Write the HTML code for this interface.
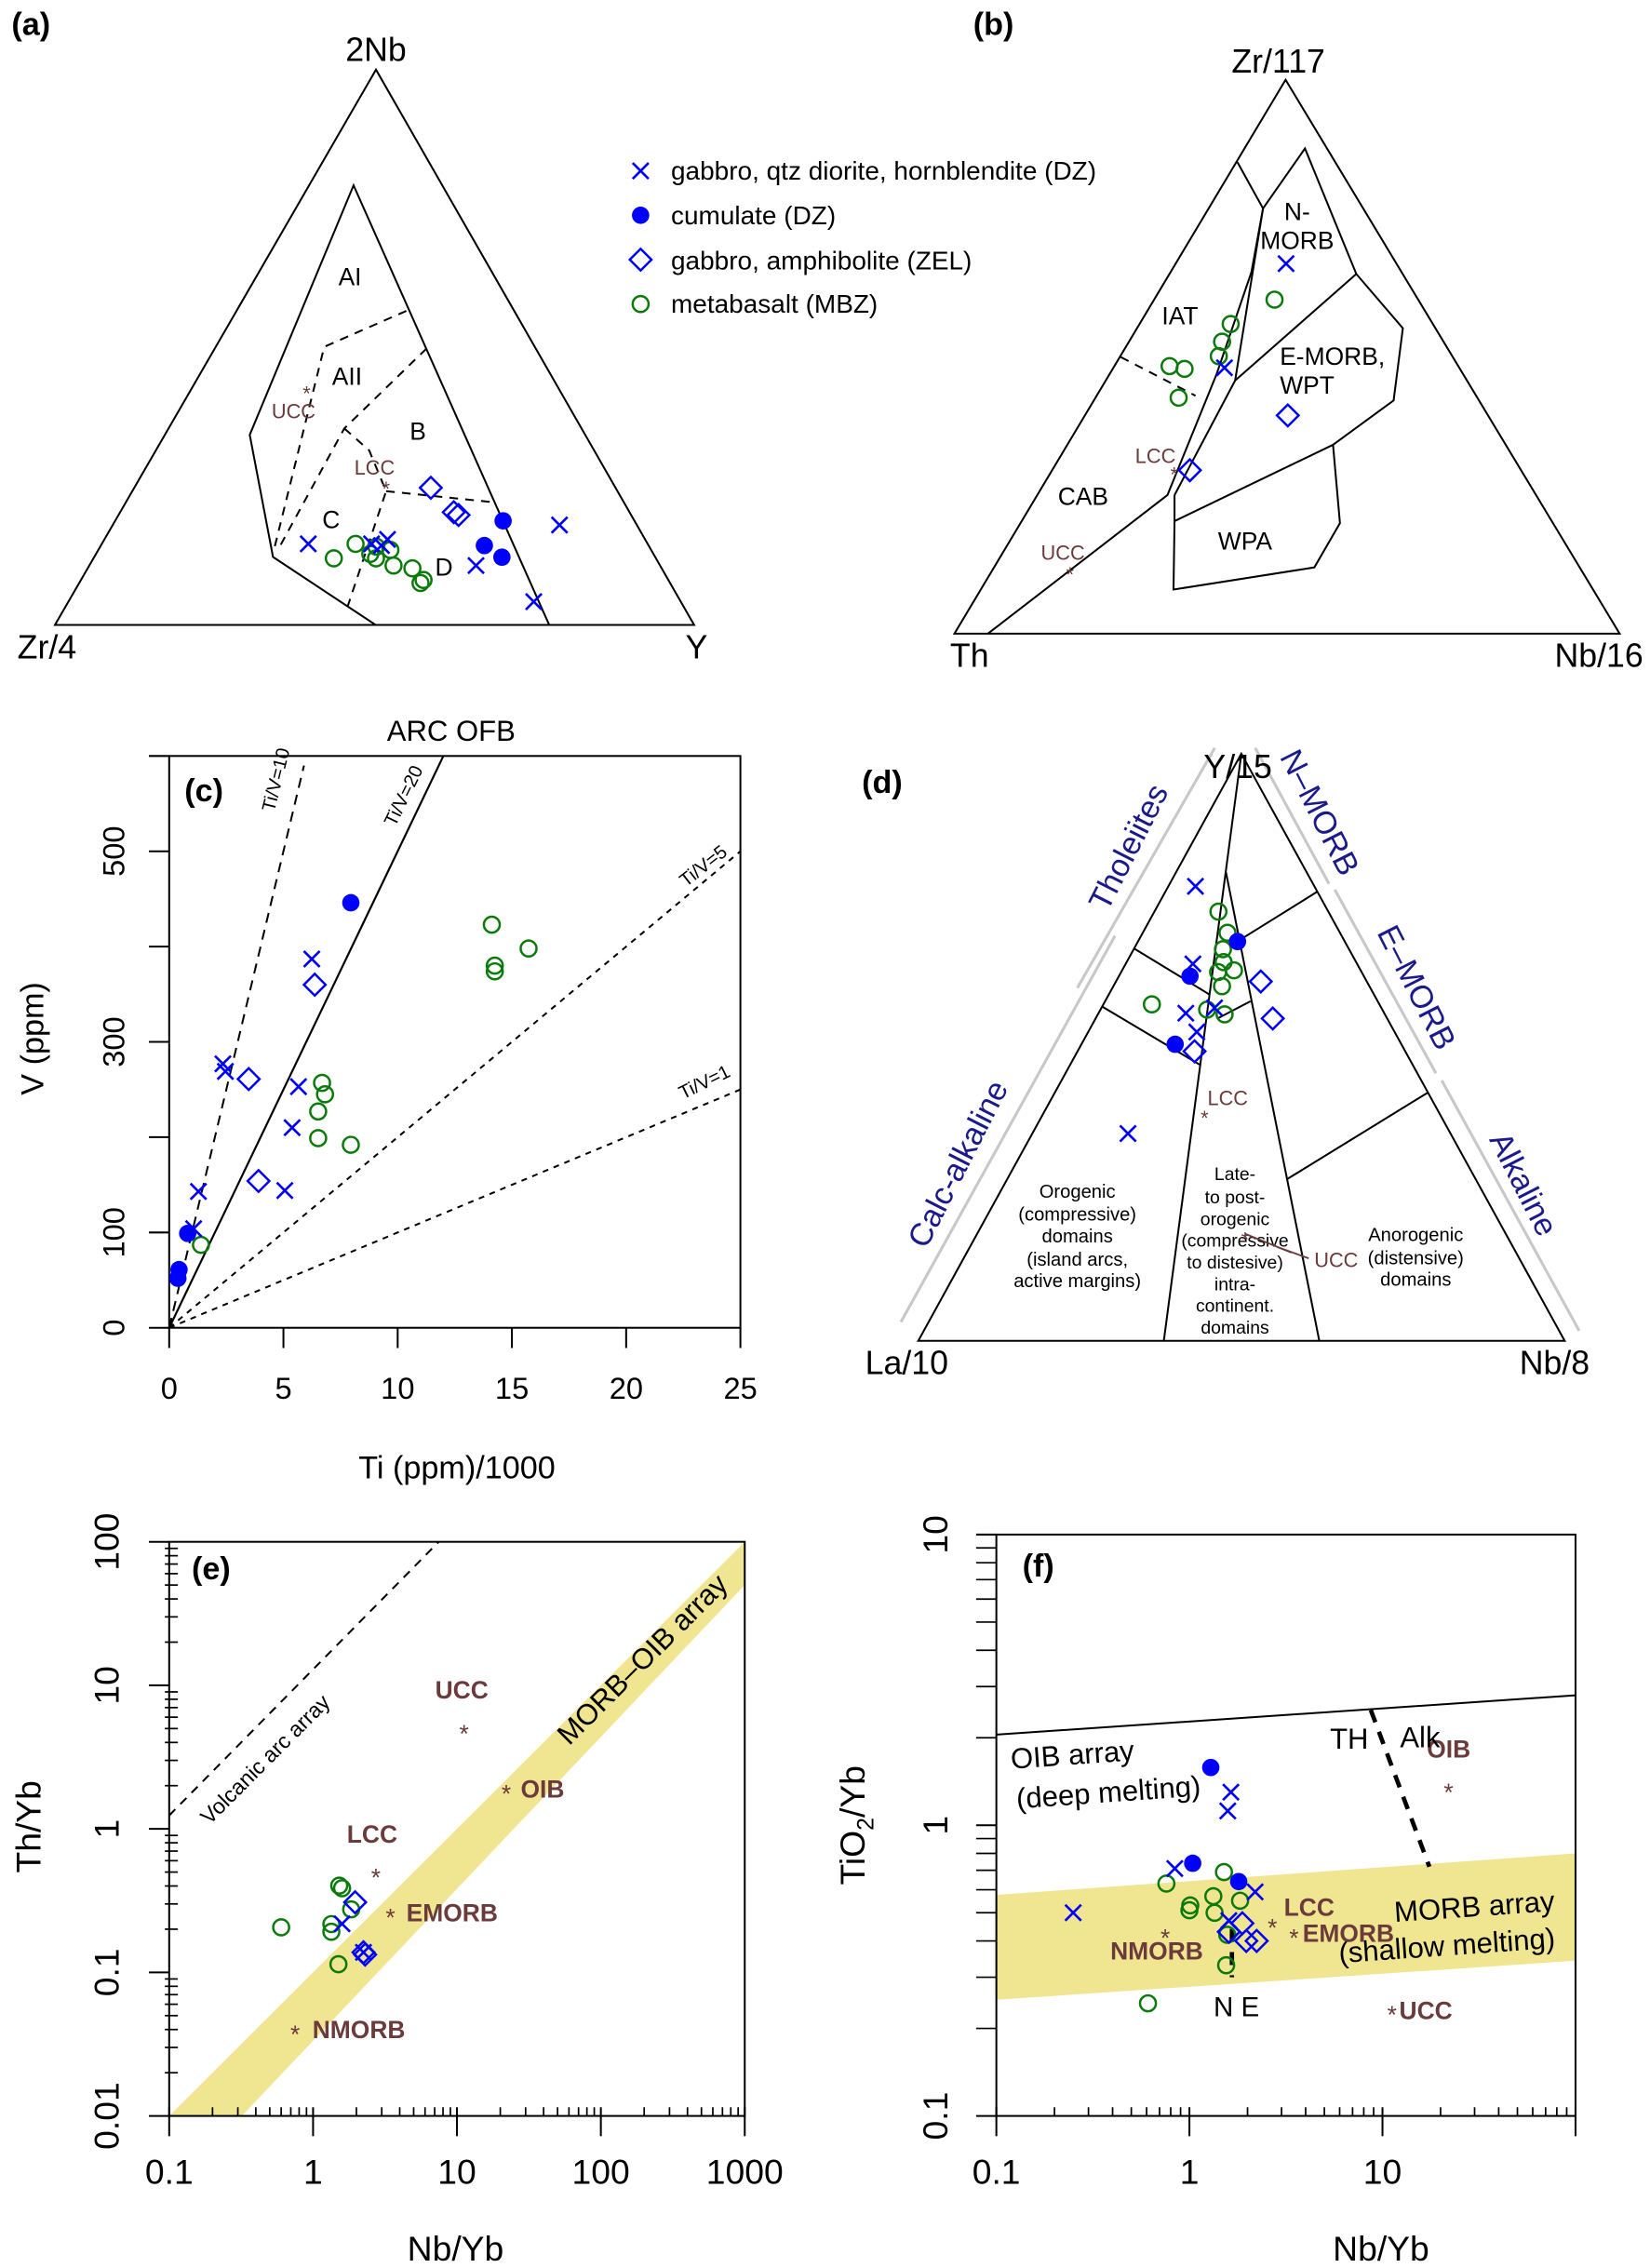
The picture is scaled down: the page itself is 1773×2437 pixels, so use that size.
<!DOCTYPE html>
<html><head><meta charset="utf-8"><title>Geochemical discrimination diagrams</title>
<style>
html,body{margin:0;padding:0;background:#fff;}
svg{display:block;font-family:"Liberation Sans",Arial,sans-serif;}
.ln{stroke:#000;stroke-width:1.3;fill:none;}
.ds{stroke:#000;stroke-width:1.3;fill:none;stroke-dasharray:6 5;}
.br{fill:#6b3b3b;}
.nv{fill:#1a1a8c;}
</style></head>
<body>
<svg id="fig" xmlns="http://www.w3.org/2000/svg" width="1773" height="2437" viewBox="0 0 1141 1568">
<rect x="0" y="0" width="1141" height="1568" fill="#fff"/>

<!-- Panel (a) -->
<g id="pa">
  <text x="8" y="24" font-size="22" font-weight="bold">(a)</text>
  <polygon class="ln" points="260,48 38,432 480,432"/>
  <polyline class="ln" points="259.5,431.8 188.8,385 172.7,300.5 244.5,128 379.7,431.8"/>
  <polyline class="ds" points="281,214.8 224.2,239.7 189.8,378.6"/>
  <polyline class="ds" points="295,240.8 238.1,296.1 193,378.6"/>
  <polyline class="ds" points="238.1,296.1 255.3,311.3 267,339.5 240.2,419.8"/>
  <polyline class="ds" points="267,339.5 341,347.1"/>
  <text x="260" y="42" font-size="23" text-anchor="middle">2Nb</text>
  <text x="12" y="455" font-size="23">Zr/4</text>
  <text x="474" y="455" font-size="23">Y</text>
  <text x="242" y="197" font-size="17" text-anchor="middle">AI</text>
  <text x="240" y="266" font-size="17" text-anchor="middle">AII</text>
  <text x="289" y="304" font-size="17" text-anchor="middle">B</text>
  <text x="229" y="365" font-size="17" text-anchor="middle">C</text>
  <text x="307" y="398" font-size="17" text-anchor="middle">D</text>
  <text x="203" y="289" font-size="14" text-anchor="middle" class="br">UCC</text>
  <text x="212" y="277" font-size="14" text-anchor="middle" class="br">*</text>
  <text x="259" y="328" font-size="14" text-anchor="middle" class="br">LCC</text>
  <text x="267" y="343" font-size="14" text-anchor="middle" class="br">*</text>
  <g id="pa-pts"></g>
</g>

<!-- Legend -->
<g id="legend">
  <text x="464" y="124" font-size="18">gabbro, qtz diorite, hornblendite (DZ)</text>
  <text x="464" y="155" font-size="18">cumulate (DZ)</text>
  <text x="464" y="186" font-size="18">gabbro, amphibolite (ZEL)</text>
  <text x="464" y="216" font-size="18">metabasalt (MBZ)</text>
  <g id="leg-mk"></g>
</g>

<!-- Panel (b) -->
<g id="pb">
  <text x="673" y="24" font-size="22" font-weight="bold">(b)</text>
  <polygon class="ln" points="889,55 660,438 1120,438"/>
  <polyline class="ln" points="855.7,112 873.4,144 902.4,102.5 937.9,189.3 970.1,226.8 963.7,276.8 921.8,307.4"/>
  <polyline class="ln" points="937.9,189.3 854.1,263 812.2,342.2"/>
  <polyline class="ln" points="873.4,144 854.1,263"/>
  <polyline class="ln" points="873.4,144 865.4,187.9 841.2,258.8 807.3,342.2 683.2,438"/>
  <polyline class="ln" points="921.8,307.4 812.2,360.2 812.2,342.2"/>
  <polyline class="ln" points="812.2,360.2 811.5,407.5 908.9,392.2 926.6,361.6 921.8,307.4"/>
  <polyline class="ds" points="775.1,246.8 826.7,273.5"/>
  <text x="884" y="50" font-size="23" text-anchor="middle">Zr/117</text>
  <text x="657" y="461" font-size="23">Th</text>
  <text x="1075" y="461" font-size="23">Nb/16</text>
  <text x="897" y="152" font-size="17" text-anchor="middle">N-</text>
  <text x="897" y="172" font-size="17" text-anchor="middle">MORB</text>
  <text x="816" y="224" font-size="17" text-anchor="middle">IAT</text>
  <text x="885" y="252" font-size="17">E-MORB,</text>
  <text x="885" y="272" font-size="17">WPT</text>
  <text x="749" y="349" font-size="17" text-anchor="middle">CAB</text>
  <text x="861" y="380" font-size="17" text-anchor="middle">WPA</text>
  <text x="799" y="320" font-size="14" text-anchor="middle" class="br">LCC</text>
  <text x="812" y="333" font-size="14" text-anchor="middle" class="br">*</text>
  <text x="735" y="387" font-size="14" text-anchor="middle" class="br">UCC</text>
  <text x="740" y="402" font-size="14" text-anchor="middle" class="br">*</text>
  <g id="pb-pts"></g>
</g>

<!-- Panel (c) -->
<g id="pc">
  <text x="141" y="554" font-size="22" font-weight="bold" text-anchor="middle">(c)</text>
  <text x="312" y="512" font-size="20" text-anchor="middle">ARC  OFB</text>
  <text transform="translate(30,718) rotate(-90)" font-size="22" text-anchor="middle">V (ppm)</text>
  <text x="316" y="1022" font-size="22" text-anchor="middle">Ti (ppm)/1000</text>
  <g id="pc-g"></g>
</g>

<!-- Panel (d) -->
<g id="pd">
  <text x="596" y="548" font-size="22" font-weight="bold">(d)</text>
  <g stroke="#c8c8c8" stroke-width="2" fill="none">
    <line x1="840" y1="517" x2="745" y2="683"/><line x1="771" y1="647" x2="623" y2="914"/>
    <line x1="868" y1="517" x2="919" y2="611"/><line x1="923" y1="615" x2="993" y2="742"/>
    <line x1="997" y1="747" x2="1092" y2="920"/>
  </g>
  <polygon class="ln" points="858.4,521 635,927 1082,927"/>
  <polyline class="ln" points="858.4,521 804.8,927"/>
  <polyline class="ln" points="847.8,603.1 912.3,927"/>
  <line class="ln" x1="784.7" y1="656" x2="836.5" y2="687.6"/>
  <line class="ln" x1="762.5" y1="696.1" x2="829.5" y2="736"/>
  <line class="ln" x1="910.5" y1="616.7" x2="854.8" y2="651.4"/>
  <line class="ln" x1="864.7" y1="692.2" x2="841.8" y2="704.2"/>
  <line class="ln" x1="987" y1="755.6" x2="890.4" y2="815"/>
  <text x="856" y="538" font-size="23" text-anchor="middle">Y/15</text>
  <text x="627" y="950" font-size="23" text-anchor="middle">La/10</text>
  <text x="1075" y="950" font-size="23" text-anchor="middle">Nb/8</text>
  <text transform="translate(787,589) rotate(-63)" font-size="22" text-anchor="middle" class="nv">Tholeiites</text>
  <text transform="translate(669,808) rotate(-63)" font-size="22" text-anchor="middle" class="nv">Calc-alkaline</text>
  <text transform="translate(906,565) rotate(63)" font-size="22" text-anchor="middle" class="nv">N–MORB</text>
  <text transform="translate(973,686) rotate(63)" font-size="22" text-anchor="middle" class="nv">E–MORB</text>
  <text transform="translate(1047,822) rotate(63)" font-size="22" text-anchor="middle" class="nv">Alkaline</text>
  <g font-size="13" text-anchor="middle">
    <text x="745" y="828">Orogenic</text><text x="745" y="844">(compressive)</text><text x="745" y="859">domains</text><text x="745" y="875">(island arcs,</text><text x="745" y="890">active margins)</text>
  </g>
  <g font-size="12.5" text-anchor="middle">
    <text x="854" y="816">Late-</text><text x="854" y="832">to post-</text><text x="854" y="847">orogenic</text><text x="854" y="862">(compressive</text><text x="854" y="877">to distesive)</text><text x="854" y="892">intra-</text><text x="854" y="907">continent.</text><text x="854" y="922">domains</text>
  </g>
  <g font-size="13" text-anchor="middle">
    <text x="979" y="858">Anorogenic</text><text x="979" y="874">(distensive)</text><text x="979" y="889">domains</text>
  </g>
  <text x="849" y="764" font-size="14" text-anchor="middle" class="br">LCC</text>
  <text x="833" y="778" font-size="14" text-anchor="middle" class="br">*</text>
  <polyline points="861,853 893,866 883,862 905,870" stroke="#6b3b3b" stroke-width="1.2" fill="none"/>
  <text x="861" y="862" font-size="14" text-anchor="middle" class="br">*</text>
  <text x="924" y="876" font-size="14" text-anchor="middle" class="br">UCC</text>
  <g id="pd-pts"></g>
</g>

<!-- Panel (e) -->
<g id="pe">
  <g id="pe-g"></g>
  <text x="146" y="1092" font-size="22" font-weight="bold" text-anchor="middle">(e)</text>
  <text transform="translate(187,1220) rotate(-45)" font-size="15" text-anchor="middle">Volcanic arc array</text>
  <text transform="translate(449,1152) rotate(-45)" font-size="20" text-anchor="middle">MORB–OIB array</text>
  <text transform="translate(28,1263) rotate(-90)" font-size="24" text-anchor="middle">Th/Yb</text>
  <text x="315" y="1563" font-size="24" text-anchor="middle">Nb/Yb</text>
</g>

<!-- Panel (f) -->
<g id="pf">
  <g id="pf-g"></g>
  <text x="718" y="1090" font-size="22" font-weight="bold" text-anchor="middle">(f)</text>
  <text transform="translate(742,1220) rotate(-4)" font-size="20" text-anchor="middle">OIB array</text>
  <text transform="translate(767,1246) rotate(-4)" font-size="20" text-anchor="middle">(deep melting)</text>
  <text x="933" y="1209" font-size="20" text-anchor="middle">TH</text>
  <text x="982" y="1208" font-size="20" text-anchor="middle">Alk</text>
  <text transform="translate(1020,1325) rotate(-4)" font-size="20" text-anchor="middle">MORB array</text>
  <text transform="translate(1001,1352) rotate(-4)" font-size="20" text-anchor="middle">(shallow melting)</text>
  <text x="855" y="1394" font-size="19" text-anchor="middle">N E</text>
  <text transform="translate(598,1262) rotate(-90)" font-size="24" text-anchor="middle">TiO<tspan font-size="16" dy="6">2</tspan><tspan dy="-6">/Yb</tspan></text>
  <text x="955" y="1563" font-size="24" text-anchor="middle">Nb/Yb</text>
</g>
</svg>

<script>
const NS = 'http://www.w3.org/2000/svg';
// ---------- DATA ----------
// Ternary panels: [top fraction, right fraction]
const aCross = [[.146,.323],[.146,.422],[.154,.443],[.143,.439],[.107,.605],[.042,.728],[.180,.699]];
const aFilled = [[.1875,.607],[.143,.600],[.122,.638]];
const aDiamond = [[.247,.464],[.203,.522],[.198,.532]];
const aCircle = [[.120,.376],[.146,.397],[.128,.429],[.120,.442],[.135,.457],[.107,.476],[.102,.508],[.081,.536],[.0755,.534],[.141,.432]];
const bCross = [[.668,.166],[.480,.167]];
const bDiamond = [[.394,.305],[.295,.207]];
const bCircle = [[.603,.181],[.559,.137],[.527,.140],[.501,.148],[.483,.083],[.478,.108],[.426,.125]];
const dCross = [[.774,.042],[.642,.104],[.558,.135],[.526,.168],[.567,.175],[.353,.148]];
const dFilled = [[.680,.154],[.621,.110],[.505,.145]];
const dDiamond = [[.612,.224],[.549,.274],[.493,.181]];
const dCircle = [[.731,.099],[.695,.131],[.667,.138],[.645,.150],[.628,.150],[.631,.173],[.604,.168],[.573,.075],[.564,.165],[.556,.196]];
// Panel c: Ti(ppm)/1000 and V(ppm)
const cCrossTi = [6.24,2.35,2.46,5.66,5.38,1.28,5.06,1.07];
const cCrossV = [387,277,269,253,210,143,144,104];
const cFilledTi = [7.95,0.81,0.43,0.38];
const cFilledV = [446,99,61,52];
const cDiamondTi = [6.37,3.48,3.91];
const cDiamondV = [360,261,154];
const cCircleTi = [14.12,15.73,14.25,14.25,6.69,6.82,6.52,6.52,7.95,1.39];
const cCircleV = [423,398,380,374,257,245,227,199,192,87];
const cTiVRatios = [10,20,5,1];
const cTiVSlopes = [100,50,20,10]; // V per Ti/1000 for each reference line
const cXTicks = [0,5,10,15,20,25];
const cYTicks = [0,100,200,300,400,500,600];
const cYLabels = ['0','100','','300','','500',''];
// Panel e: Nb/Yb vs Th/Yb
const eCircleX = [0.60,1.34,1.34,1.52,1.59,1.84,1.50];
const eCircleY = [0.206,0.217,0.192,0.402,0.386,0.275,0.114];
const eDiamondX = [1.96,2.24,2.30];
const eDiamondY = [0.308,0.138,0.133];
const eCrossX = [1.59,2.24];
const eCrossY = [0.218,0.138];
const eRefNames = ['UCC','LCC','EMORB','OIB','NMORB'];
const eRefX = [11.2,2.73,3.45,22,0.75];
const eRefY = [4.85,0.48,0.254,1.85,0.039];
const eBandUpper = [[0.1,0.01],[1000,100]];
const eBandLower = [[0.32,0.01],[1000,50]];
const eArcLine = [[0.1,1.24],[7.47,100]];
const eXTicks = [0.1,1,10,100,1000];
const eXLabels = ['0.1','1','10','100','1000'];
const eYTicks = [0.01,0.1,1,10,100];
const eYLabels = ['0.01','0.1','1','10','100'];
// Panel f: Nb/Yb vs TiO2/Yb
const fFilledX = [1.29,1.04,1.80];
const fFilledY = [1.58,0.74,0.64];
const fCrossX = [1.64,1.58,0.84,0.25,2.19,1.60];
const fCrossY = [1.30,1.12,0.71,0.50,0.59,0.47];
const fDiamondX = [1.88,1.97,2.23,1.60];
const fDiamondY = [0.46,0.40,0.40,0.43];
const fCircleX = [0.76,1.51,1.01,1.00,1.33,1.35,1.83,1.57,1.55,0.61];
const fCircleY = [0.63,0.69,0.53,0.51,0.57,0.50,0.55,0.42,0.33,0.244];
const fRefNames = ['NMORB','EMORB','LCC','UCC','OIB'];
const fRefX = [0.75,3.48,2.69,11.2,22];
const fRefY = [0.42,0.42,0.455,0.228,1.33];
const fThAlk = [[0.1,2.05],[100,2.8]];
const fBandUpper = [[0.1,0.576],[100,0.80]];
const fBandLower = [[0.1,0.251],[100,0.342]];
const fDash = [[8.7,2.49],[17.5,0.72]];
const fNE = [[1.66,0.44],[1.66,0.30]];
const fXTicks = [0.1,1,10,100];
const fXLabels = ['0.1','1','10',''];
const fYTicks = [0.1,1,10];
const fYLabels = ['0.1','1','10'];

// ---------- AXES ----------
const TA = {T:[260,48], L:[38,432], R:[480,432]};
const TB = {T:[889,55], L:[660,438], R:[1120,438]};
const TD = {T:[858.4,521], L:[635,927], R:[1082,927]};
function tern(tri, t, r){ const l = 1-t-r; return [l*tri.L[0]+r*tri.R[0]+t*tri.T[0], l*tri.L[1]+r*tri.R[1]+t*tri.T[1]]; }
const cx = v => 117 + v*15.8;
const cy = v => 918 - v*0.659;
const ex = v => 117 + (Math.log10(v)+1)*99.5;
const ey = v => 1463 - (Math.log10(v)+2)*99.25;
const fx = v => 689 + (Math.log10(v)+1)*133.5;
const fy = v => 1463 - (Math.log10(v)+1)*201;

function mk(tag, parent){ const e = document.createElementNS(NS, tag); parent.appendChild(e); return e; }
function line(parent, x1,y1,x2,y2, color, w, dash){
  const l = mk('line', parent);
  l.setAttribute('x1',x1); l.setAttribute('y1',y1); l.setAttribute('x2',x2); l.setAttribute('y2',y2);
  l.setAttribute('stroke', color||'#000'); l.setAttribute('stroke-width', w||1.3);
  if (dash) l.setAttribute('stroke-dasharray', dash);
  return l;
}
function txt(parent, x, y, s, size, anchor, rot){
  const t = mk('text', parent);
  t.textContent = s; t.setAttribute('font-size', size);
  t.setAttribute('text-anchor', anchor||'middle');
  if (rot) t.setAttribute('transform', 'translate('+x+','+y+') rotate('+rot+')');
  else { t.setAttribute('x', x); t.setAttribute('y', y); }
  return t;
}
function marker(parent, type, x, y){
  const g = mk('g', parent);
  if (type === 'cross'){
    const s = 5.5;
    line(g, x-s,y-s,x+s,y+s,'#0000ff',1.7); line(g, x-s,y+s,x+s,y-s,'#0000ff',1.7);
  } else if (type === 'filled'){
    const c = mk('circle', g); c.setAttribute('cx',x); c.setAttribute('cy',y); c.setAttribute('r',6); c.setAttribute('fill','#0000ff');
  } else if (type === 'diamond'){
    const p = mk('polygon', g); const s = 7.5;
    p.setAttribute('points', x+','+(y-s)+' '+(x+s)+','+y+' '+x+','+(y+s)+' '+(x-s)+','+y);
    p.setAttribute('fill','none'); p.setAttribute('stroke','#0000ff'); p.setAttribute('stroke-width',1.6);
  } else {
    const c = mk('circle', g); c.setAttribute('cx',x); c.setAttribute('cy',y); c.setAttribute('r',5.5);
    c.setAttribute('fill','none'); c.setAttribute('stroke','#0a7a0a'); c.setAttribute('stroke-width',1.6);
  }
  return g;
}
function ternSeries(parent, tri, arr, type, prefix){
  arr.forEach(p => {
    const xy = tern(tri, p[0], p[1]);
    const m = marker(parent, type, xy[0], xy[1]);
    
    
  });
}
function xySeries(parent, X, Y, fxn, fyn, type, prefix){
  X.forEach((v,i) => {
    const m = marker(parent, type, fxn(v), fyn(Y[i]));
    
    
  });
}

// ---------- Legend ----------
const lg = document.getElementById('leg-mk');
['cross','filled','diamond','circle'].forEach((t,i) => {
  const m = marker(lg, t, 443, 118+i*30.7);
  
  
});

// ---------- Ternary points ----------
const pa = document.getElementById('pa-pts');
ternSeries(pa, TA, aCircle, 'circle', 'a'); ternSeries(pa, TA, aCross, 'cross', 'a');
ternSeries(pa, TA, aFilled, 'filled', 'a'); ternSeries(pa, TA, aDiamond, 'diamond', 'a');
const pb = document.getElementById('pb-pts');
ternSeries(pb, TB, bCircle, 'circle', 'b'); ternSeries(pb, TB, bCross, 'cross', 'b'); ternSeries(pb, TB, bDiamond, 'diamond', 'b');
const pd = document.getElementById('pd-pts');
ternSeries(pd, TD, dCircle, 'circle', 'd'); ternSeries(pd, TD, dCross, 'cross', 'd');
ternSeries(pd, TD, dFilled, 'filled', 'd'); ternSeries(pd, TD, dDiamond, 'diamond', 'd');

// ---------- Panel c ----------
const gc = document.getElementById('pc-g');
const frameC = mk('rect', gc);
frameC.setAttribute('x', cx(0)); frameC.setAttribute('y', cy(600)); frameC.setAttribute('width', cx(25)-cx(0)); frameC.setAttribute('height', cy(0)-cy(600));
frameC.setAttribute('fill','none'); frameC.setAttribute('stroke','#000'); frameC.setAttribute('stroke-width',1.3);
 
cXTicks.forEach(v => {
  const t = line(gc, cx(v), cy(0), cx(v), cy(0)+14);
   
  const l = txt(gc, cx(v), 967, String(v), 21);
   
});
cYTicks.forEach((v,i) => {
  const t = line(gc, cx(0)-14, cy(v), cx(0), cy(v));
   
  if (cYLabels[i]){ const l = txt(gc, 86, cy(v), cYLabels[i], 21, 'middle', -90);
      }
});
cTiVSlopes.forEach((s,i) => {
  let xe = 25, ye = s*25;
  if (ye > 600){ ye = 600; xe = 600/s; }
  if (i===0){ xe = 5.9; ye = s*5.9; }
  const l = line(gc, cx(0), cy(0), cx(xe), cy(ye), '#000', i===1?1.4:1.3, i===1?null:(i===0?'7 5':'4 4'));
   
});
const cLab = [[195,540,-76],[283,552,-64],[489,602,-38],[489,752,-26]];
cTiVRatios.forEach((r,i) => {
  const t = txt(gc, cLab[i][0], cLab[i][1], 'Ti/V='+r, 13, 'middle', cLab[i][2]);
   
});
xySeries(gc, cCircleTi, cCircleV, cx, cy, 'circle', 'c');
xySeries(gc, cCrossTi, cCrossV, cx, cy, 'cross', 'c');
xySeries(gc, cFilledTi, cFilledV, cx, cy, 'filled', 'c');
xySeries(gc, cDiamondTi, cDiamondV, cx, cy, 'diamond', 'c');

// ---------- log axes helper ----------
function logAxes(g, fxn, fyn, xT, xL, yT, yL, x0, y0, x1, y1, tag, ylabX, xlabY){
  const fr = mk('rect', g);
  fr.setAttribute('x', x0); fr.setAttribute('y', y1); fr.setAttribute('width', x1-x0); fr.setAttribute('height', y0-y1);
  fr.setAttribute('fill','none'); fr.setAttribute('stroke','#000'); fr.setAttribute('stroke-width',1.3);
   
  xT.forEach((v,i) => {
    const t = line(g, fxn(v), y0-6, fxn(v), y0+14);
     
    if (xL[i]){ const l = txt(g, fxn(v), xlabY, xL[i], 24);
        }
    if (i < xT.length-1) for (let k=2;k<10;k++){
      const m = line(g, fxn(v*k), y0-6, fxn(v*k), y0, '#000', 1.1);
       
    }
  });
  yT.forEach((v,i) => {
    const t = line(g, x0-14, fyn(v), x0, fyn(v));
     
    const l = txt(g, ylabX, fyn(v), yL[i], 24, 'middle', -90);
     
    if (i < yT.length-1) for (let k=2;k<10;k++){
      const m = line(g, x0-(tag==='e'?3:14), fyn(v*k), x0+(tag==='e'?6:0), fyn(v*k), '#000', 1.1);
       
    }
  });
}
function band(g, fxn, fyn, up, lo, name){
  const p = mk('polygon', g);
  p.setAttribute('points', [up[0],up[1],lo[1],lo[0]].map(q => fxn(q[0])+','+fyn(q[1])).join(' '));
  p.setAttribute('fill','#f0e590');
   
}
function refStars(g, fxn, fyn, names, X, Y, tag, off){
  names.forEach((n,i) => {
    const s = txt(g, fxn(X[i]), fyn(Y[i])+8, '*', 17);
    s.setAttribute('class','br');
     
    const o = off[i];
    const l = txt(g, fxn(X[i])+o[0], fyn(Y[i])+o[1], n, 17, 'start');
    l.setAttribute('class','br'); l.setAttribute('font-weight','bold');
     
  });
}

// ---------- Panel e ----------
const ge = document.getElementById('pe-g');
band(ge, ex, ey, eBandUpper, eBandLower, 'morb-oib-array-band');
logAxes(ge, ex, ey, eXTicks, eXLabels, eYTicks, eYLabels, ex(0.1), ey(0.01), ex(1000), ey(100), 'e', 82, 1510);
const al = line(ge, ex(eArcLine[0][0]), ey(eArcLine[0][1]), ex(eArcLine[1][0]), ey(eArcLine[1][1]), '#000', 1.3, '6 5');
 
refStars(ge, ex, ey, eRefNames, eRefX, eRefY, 'e', [[-20,-22],[-20,-22],[11,5],[10,5],[12,5]]);
xySeries(ge, eCircleX, eCircleY, ex, ey, 'circle', 'e');
xySeries(ge, eDiamondX, eDiamondY, ex, ey, 'diamond', 'e');
xySeries(ge, eCrossX, eCrossY, ex, ey, 'cross', 'e');

// ---------- Panel f ----------
const gf = document.getElementById('pf-g');
band(gf, fx, fy, fBandUpper, fBandLower, 'morb-array-band');
logAxes(gf, fx, fy, fXTicks, fXLabels, fYTicks, fYLabels, fx(0.1), fy(0.1), fx(100), fy(10), 'f', 655, 1510);
const ta = line(gf, fx(fThAlk[0][0]), fy(fThAlk[0][1]), fx(fThAlk[1][0]), fy(fThAlk[1][1]), '#000', 1.3);
 
const dl = line(gf, fx(fDash[0][0]), fy(fDash[0][1]), fx(fDash[1][0]), fy(fDash[1][1]), '#000', 3, '9 7');
 
const ne = line(gf, fx(fNE[0][0]), fy(fNE[0][1]), fx(fNE[1][0]), fy(fNE[1][1]), '#000', 3, '9 7');
 
refStars(gf, fx, fy, fRefNames, fRefX, fRefY, 'f', [[-38,17],[6,5],[8,-6],[5,5],[-15,-22]]);
xySeries(gf, fCircleX, fCircleY, fx, fy, 'circle', 'f');
xySeries(gf, fCrossX, fCrossY, fx, fy, 'cross', 'f');
xySeries(gf, fDiamondX, fDiamondY, fx, fy, 'diamond', 'f');
xySeries(gf, fFilledX, fFilledY, fx, fy, 'filled', 'f');
</script>
</body></html>
